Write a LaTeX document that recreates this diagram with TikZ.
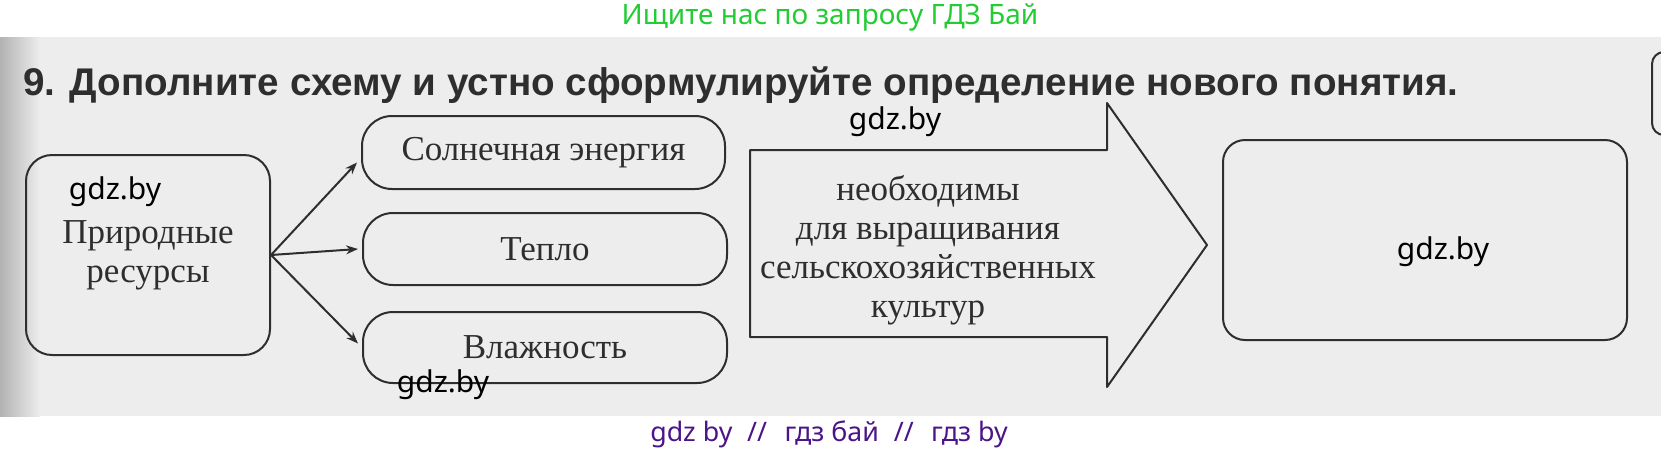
\documentclass[tikz,border=0pt]{standalone}
\usepackage{fontspec}
\setmainfont{Liberation Serif}
\newfontfamily\headfont{Liberation Sans}
\newfontfamily\markfont{Noto Sans}
\usepackage{tkz-euclide}
\usetikzlibrary{arrows,arrows.meta,calc}
\definecolor{InkClr}{HTML}{2E2E2E}
\definecolor{PaperClr}{HTML}{EDEDED}
\definecolor{GreenClr}{HTML}{22CC33}
\definecolor{VioletClr}{HTML}{4B1489}

\begin{document}
\begin{tikzpicture}[x=0.5pt,y=-0.5pt,
  box/.style={draw=InkClr,line width=1pt,text=InkClr,align=center,inner sep=0pt,
    font=\fontsize{17.5}{19.5}\selectfont},
  wmark/.style={text=black,font=\markfont\fontsize{15}{16}\selectfont},
  link/.style={draw=InkClr,line width=1pt,-{Stealth[length=6pt,width=4.5pt]}}]
\useasboundingbox (0,0) rectangle (1661,451);
\fill[PaperClr] (0,37) rectangle (1661,416);
\shade[left color=black!30,right color=PaperClr] (0,37) rectangle (40,416);

\node[text=GreenClr,font=\markfont\fontsize{14}{16}\selectfont] (ad) at (830,17) {Ищите нас по запросу ГДЗ Бай};
\node[anchor=base west,inner sep=0pt,text=InkClr,font=\headfont\bfseries\fontsize{19.3}{22}\selectfont] (task) at (23,95) {9. Дополните схему и устно сформулируйте определение нового понятия.};

\node[box,rounded corners=13pt,minimum width=122pt,minimum height=100pt] (res) at (148,255) {Природные\\ресурсы};
\node[box,rounded corners=15pt,minimum width=181.5pt,minimum height=36.5pt] (sun) at (543.5,152.5) {Солнечная энергия};
\node[box,rounded corners=15pt,minimum width=182pt,minimum height=36pt] (heat) at (545,249) {Тепло};
\node[box,rounded corners=15pt,minimum width=182pt,minimum height=35.5pt] (wet) at (545,347.5) {Влажность};
\node[box,rounded corners=11pt,minimum width=202pt,minimum height=100pt] (goal) at (1425,240) {};

\draw[link] (res.east) -- ([xshift=-2pt,yshift=-5pt]sun.west);
\draw[link] (res.east) -- ([xshift=-2pt]heat.west);
\draw[link] (res.east) -- ([xshift=-2pt,yshift=2pt]wet.west);

\tkzDefPoints{750/150/A1,1107/150/A2,1107/103/A3,1207/245/A4,1107/387/A5,1107/337/A6,750/337/A7}
\tkzDrawPolygon[line width=1pt,color=InkClr](A1,A2,A3,A4,A5,A6,A7)
\node[align=center,text=InkClr,font=\fontsize{17.5}{19.5}\selectfont] (need) at (928,250) {необходимы\\для выращивания\\сельскохозяйственных\\культур};

\draw[InkClr,line width=1pt,rounded corners=6pt] (1672,52) -- (1652,52) -- (1652,135) -- (1672,135);

\node[wmark] (w1) at (115,192) {gdz.by};
\node[wmark] (w2) at (895,122) {gdz.by};
\node[wmark] (w3) at (443,385) {gdz.by};
\node[wmark] (w4) at (1443,252) {gdz.by};

\node[text=VioletClr,font=\markfont\fontsize{13.4}{15}\selectfont] (foot) at (829,434) {gdz by\hspace{0.55em}//\hspace{0.65em}гдз бай\hspace{0.55em}//\hspace{0.65em}гдз by};
\end{tikzpicture}
\end{document}
